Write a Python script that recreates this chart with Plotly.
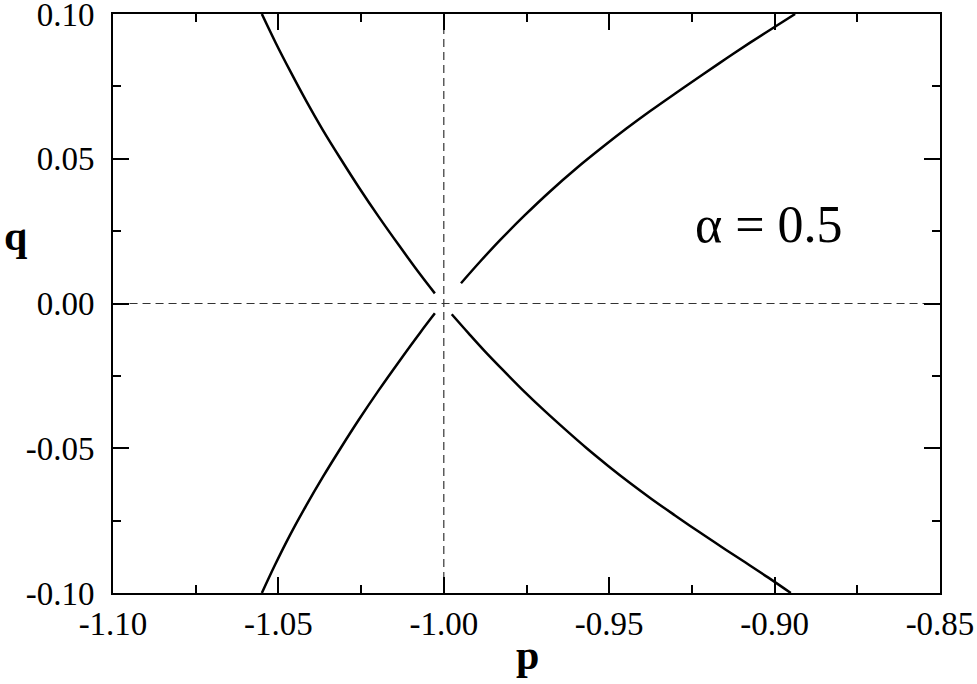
import plotly.graph_objects as go

# branch curves (p, q)
upper_left_p = [-1.0550, -1.0508, -1.0463, -1.0416, -1.0366, -1.0312, -1.0256, -1.0197, -1.0135, -1.0071, -1.0027]
upper_left_q = [0.1000, 0.0900, 0.0800, 0.0700, 0.0600, 0.0500, 0.0400, 0.0300, 0.0200, 0.0100, 0.0035]

upper_right_p = [-0.9948, -0.9890, -0.9830, -0.9755, -0.9679, -0.9598, -0.9518, -0.9447, -0.9377, -0.9296, -0.9216, -0.9145, -0.9074, -0.9006, -0.8938]
upper_right_q = [0.0070, 0.0145, 0.0219, 0.0305, 0.0387, 0.0468, 0.0542, 0.0605, 0.0664, 0.0729, 0.0792, 0.0847, 0.0901, 0.0951, 0.1000]

lower_left_p = [-1.0027, -1.0071, -1.0135, -1.0197, -1.0256, -1.0312, -1.0366, -1.0417, -1.0465, -1.0509, -1.0550]
lower_left_q = [-0.0034, -0.0100, -0.0200, -0.0300, -0.0400, -0.0500, -0.0600, -0.0700, -0.0800, -0.0900, -0.1000]

lower_right_p = [-0.9976, -0.9925, -0.9875, -0.9815, -0.9755, -0.9695, -0.9634, -0.9568, -0.9503, -0.9437, -0.9372, -0.9301, -0.9231, -0.9160, -0.9089, -0.9020, -0.8951]
lower_right_q = [-0.0037, -0.0103, -0.0166, -0.0237, -0.0306, -0.0371, -0.0434, -0.0500, -0.0561, -0.0620, -0.0675, -0.0732, -0.0787, -0.0841, -0.0894, -0.0946, -0.1000]

x_ticks = [-1.10, -1.05, -1.00, -0.95, -0.90, -0.85]
x_labels = ['-1.10', '-1.05', '-1.00', '-0.95', '-0.90', '-0.85']
y_ticks = [-0.10, -0.05, 0.00, 0.05, 0.10]
y_labels = ['-0.10', '-0.05', '0.00', '0.05', '0.10']

font = 'Liberation Serif, Times New Roman, serif'
W, H = 977, 684
ML, MR, MT, MB = 113, 37, 14, 91

fig = go.Figure()

# dashed guide lines
fig.add_trace(go.Scatter(x=[-1.095, -0.85], y=[0, 0], mode='lines',
                         line=dict(color='#333333', width=1.2, dash='8px,5px'),
                         hoverinfo='skip'))
fig.add_trace(go.Scatter(x=[-1.0, -1.0], y=[-0.10, 0.10], mode='lines',
                         line=dict(color='#333333', width=1.2, dash='8px,5px'),
                         hoverinfo='skip'))

for px_, qy in [(upper_left_p, upper_left_q), (upper_right_p, upper_right_q),
                (lower_left_p, lower_left_q), (lower_right_p, lower_right_q)]:
    fig.add_trace(go.Scatter(x=px_, y=qy, mode='lines',
                             line=dict(color='black', width=2.5, shape='spline', smoothing=1.0)))

axis_common = dict(
    showgrid=False, zeroline=False, showline=True, linecolor='black', linewidth=2,
    mirror='allticks', ticks='inside', ticklen=16, tickwidth=1.5, tickcolor='black',
    tickfont=dict(family=font, size=33, color='black'), automargin=False,
    ticklabeloverflow='allow',
)
minor_common = dict(ticks='inside', ticklen=8, tickwidth=1.5, tickcolor='black',
                    dtick=0.025, showgrid=False)

fig.update_xaxes(range=[-1.100001, -0.849999], tickvals=x_ticks, ticktext=x_labels,
                 minor=dict(tick0=-1.10, **minor_common),
                 ticklabelstandoff=0, **axis_common)
fig.update_yaxes(range=[-0.100001, 0.100001], tickvals=y_ticks, ticktext=y_labels,
                 minor=dict(tick0=-0.10, **minor_common),
                 ticklabelstandoff=10, **axis_common)


def paper_x(px):
    return (px - ML) / (W - ML - MR)


def paper_y(py):
    return (H - MB - py) / (H - MT - MB)


fig.add_annotation(x=-0.9017, y=0.0273, xref='x', yref='y', text='α = 0.5', showarrow=False,
                   font=dict(family=font, size=52, color='black'))
fig.add_annotation(x=paper_x(15), y=paper_y(236), xref='paper', yref='paper', text='<b>q</b>',
                   showarrow=False, font=dict(family=font, size=42, color='black'),
                   xanchor='center', yanchor='middle')
fig.add_annotation(x=paper_x(527), y=paper_y(655), xref='paper', yref='paper', text='<b>p</b>',
                   showarrow=False, font=dict(family=font, size=42, color='black'),
                   xanchor='center', yanchor='middle')

fig.update_layout(
    width=W, height=H,
    margin=dict(l=ML, r=MR, t=MT, b=MB, autoexpand=False),
    paper_bgcolor='white', plot_bgcolor='white',
    showlegend=False,
)

# drop the default page margin so the figure sits at the window's corner
fig.write_html("out.html", config={'displayModeBar': False},
               post_script="document.body.style.margin = '0';")
